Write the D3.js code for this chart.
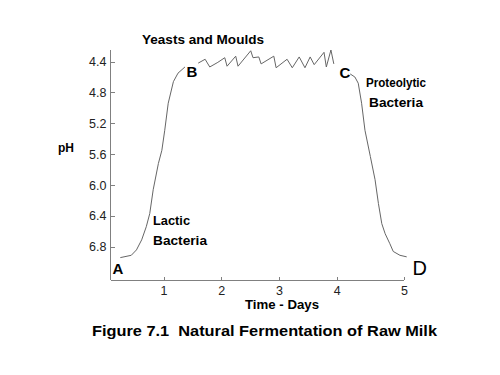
<!DOCTYPE html>
<html>
<head>
<meta charset="utf-8">
<script src="https://cdn.jsdelivr.net/npm/d3@7/dist/d3.min.js"></script>
<style>
  body { margin: 0; background: #fff; }
  svg { display: block; font-family: Arial, "Liberation Sans", sans-serif; }
  .axis path, .axis line { stroke: #808080; shape-rendering: crispEdges; }
  .axis text { fill: #222; font-size: 12.5px; }
</style>
</head>
<body>
<svg id="chart" width="500" height="375"></svg>
<script>
'use strict';

// time in days, pH
var riseDays = [0.25, 0.44, 0.53, 0.62, 0.70, 0.76, 0.82, 0.91, 0.97, 1.02, 1.08, 1.17, 1.25, 1.37];
var risePH   = [6.94, 6.91, 6.84, 6.71, 6.54, 6.37, 6.06, 5.72, 5.55, 5.29, 4.94, 4.66, 4.55, 4.47];

var plateauDays = [1.60, 1.72, 1.80, 1.94, 2.06, 2.10, 2.25, 2.29, 2.51, 2.55, 2.65, 2.69,
                   2.91, 2.95, 3.14, 3.23, 3.35, 3.45, 3.54, 3.61, 3.78, 3.82, 3.90, 3.95];
var plateauPH   = [4.42, 4.37, 4.47, 4.41, 4.35, 4.46, 4.33, 4.46, 4.26, 4.35, 4.34, 4.43,
                   4.33, 4.48, 4.37, 4.48, 4.34, 4.48, 4.34, 4.44, 4.28, 4.47, 4.25, 4.43];

var fallDays = [4.20, 4.27, 4.32, 4.37, 4.42, 4.50, 4.57, 4.62, 4.67, 4.72, 4.79, 4.84, 4.94, 5.04];
var fallPH   = [4.56, 4.60, 4.68, 4.94, 5.29, 5.63, 5.93, 6.24, 6.50, 6.63, 6.76, 6.86, 6.91, 6.93];

var xTicks = [1, 2, 3, 4, 5];
var yTicks = [4.4, 4.8, 5.2, 5.6, 6.0, 6.4, 6.8];

(function() {

  var svg = d3.select('#chart');

  // the original x axis is not quite even, the last day is stretched
  var x = d3.scaleLinear().domain([0.08, 4, 5]).range([110.5, 336.7, 404]);
  var y = d3.scaleLinear().domain([4.25, 7.23]).range([50, 280]);

  var xAxis = d3.axisBottom(x).tickValues(xTicks).tickSize(-3).tickPadding(6)
    .tickFormat(d3.format('d'));
  var yAxis = d3.axisLeft(y).tickValues(yTicks).tickSize(-4).tickPadding(4)
    .tickFormat(d3.format('.1f'));

  svg.append('g').attr('class', 'axis')
    .attr('transform', 'translate(0,280)')
    .call(xAxis)
    .call(function(g) { g.select('.domain').attr('d', 'M' + x.range()[0] + ',0H' + x.range()[2]); });

  svg.append('g').attr('class', 'axis')
    .attr('transform', 'translate(110.5,0)')
    .call(yAxis)
    .call(function(g) { g.select('.domain').attr('d', 'M0,' + y.range()[0] + 'V' + y.range()[1]); });

  var line = d3.line()
    .x(function(d) { return x(d[0]); })
    .y(function(d) { return y(d[1]); });

  [[riseDays, risePH], [plateauDays, plateauPH], [fallDays, fallPH]].forEach(function(s) {
    svg.append('path')
      .datum(d3.zip(s[0], s[1]))
      .attr('d', line)
      .attr('fill', 'none')
      .attr('stroke', '#666')
      .attr('stroke-width', 1);
  });

  function label(txt, px, py, size, weight, len) {
    var t = svg.append('text')
      .attr('x', px).attr('y', py)
      .attr('font-size', size)
      .attr('font-weight', weight)
      .attr('fill', '#000')
      .text(txt);
    if (len) t.attr('textLength', len).attr('lengthAdjust', 'spacingAndGlyphs');
    return t;
  }

  label('Yeasts and Moulds', 142, 44, 13, 'bold', 122);
  label('pH', 58, 152, 12, 'bold');
  label('Lactic', 153, 225, 12, 'bold', 37);
  label('Bacteria', 153, 244.5, 12, 'bold', 54);
  label('Proteolytic', 366, 87, 12, 'bold', 60);
  label('Bacteria', 369, 107, 12, 'bold', 54);
  label('Time - Days', 245, 308.5, 13, 'bold', 74);

  label('A', 112.5, 273.5, 15, 'bold');
  label('B', 186.5, 77, 15, 'bold');
  label('C', 339.5, 77.5, 15, 'bold');
  label('D', 412.5, 275, 20, 'normal');

  label('Figure 7.1\u00a0\u00a0Natural Fermentation of Raw Milk', 92, 336, 14, 'bold', 345);

})();
</script>
</body>
</html>
